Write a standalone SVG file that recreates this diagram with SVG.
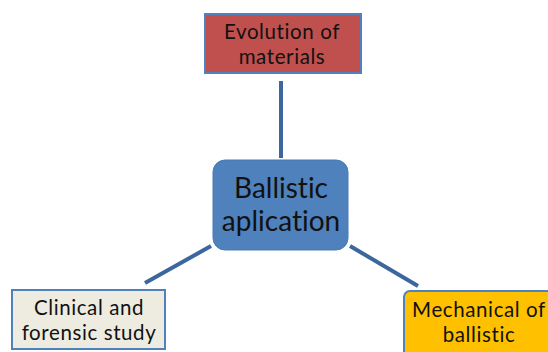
<svg xmlns="http://www.w3.org/2000/svg" width="548" height="352" viewBox="0 0 548 352">
<style>
.t{font-family:Lato,"Liberation Sans",sans-serif;fill:#111;text-anchor:middle;font-variant-ligatures:none}
.s{font-size:20.5px;letter-spacing:0.6px}
.b{font-size:28px}
.c{stroke:#3b679e;stroke-width:4;fill:none}
.n{stroke:#4f81bd;stroke-width:2}
</style>
<rect width="548" height="352" fill="#fff"/>
<g id="connectors">
<line class="c" x1="281" y1="81" x2="281" y2="158"/>
<line class="c" x1="211" y1="246" x2="145" y2="283"/>
<line class="c" x1="350" y1="246" x2="418" y2="286"/>
</g>
<g id="evolution">
<rect class="n" x="205" y="14" width="156" height="59" fill="#c0504d"/>
<text class="t s" x="282" y="39">Evolution of</text>
<text class="t s" x="282" y="64">materials</text>
</g>
<g id="ballistic">
<rect x="213" y="160" width="135" height="90" rx="12" fill="#4f81bd" stroke="#4a7ab4" stroke-width="1"/>
<text class="t b" x="281" y="198">Ballistic</text>
<text class="t b" x="281" y="231">aplication</text>
</g>
<g id="clinical">
<rect class="n" x="12" y="290" width="153" height="59" fill="#eeece1"/>
<text class="t s" x="89" y="315">Clinical and</text>
<text class="t s" x="89" y="340">forensic study</text>
</g>
<g id="mechanical">
<rect class="n" x="404" y="291" width="160" height="70" rx="6" fill="#ffc000"/>
<text class="t s" x="479" y="317">Mechanical of</text>
<text class="t s" x="479" y="342">ballistic</text>
</g>
</svg>
